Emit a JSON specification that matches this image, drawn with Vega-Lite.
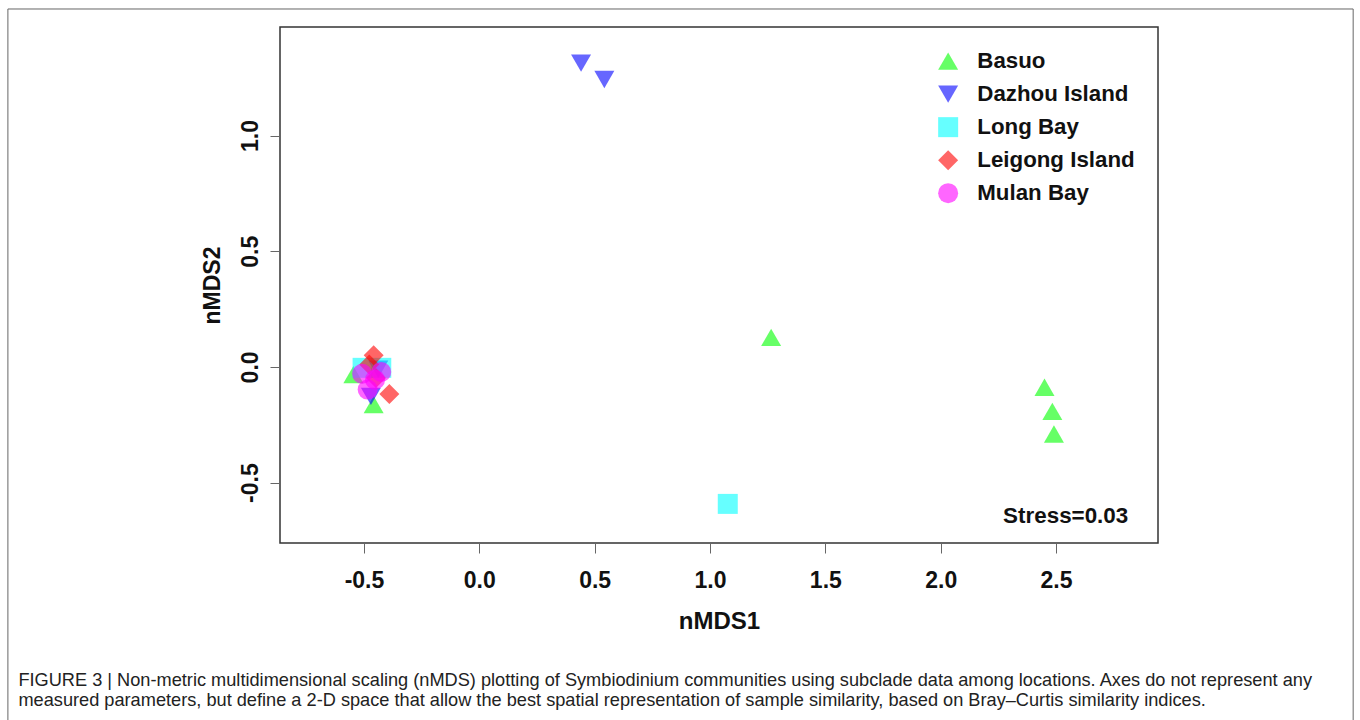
{
  "$schema": "https://vega.github.io/schema/vega-lite/v6.json",
  "width": 878,
  "height": 516,
  "padding": {"left": 7, "top": 8, "right": 0, "bottom": 0},
  "background": "white",
  "config": {
    "view": {"stroke": "#333333", "strokeWidth": 1.5},
    "font": "Liberation Sans"
  },
  "title": {
    "text": ["FIGURE 3 | Non-metric multidimensional scaling (nMDS) plotting of Symbiodinium communities using subclade data among locations. Axes do not represent any", "measured parameters, but define a 2-D space that allow the best spatial representation of sample similarity, based on Bray–Curtis similarity indices."],
    "orient": "bottom",
    "anchor": "start",
    "frame": "bounds",
    "offset": -60,
    "dx": 11,
    "font": "Liberation Sans",
    "fontSize": 18.2,
    "fontWeight": "normal",
    "color": "#222222",
    "lineHeight": 20
  },
  "layer": [
    {
      "data": {"values": [{}]},
      "mark": {"type": "rect", "fill": null, "stroke": "#666666", "strokeWidth": 1, "clip": false},
      "encoding": {
        "x": {"datum": -2.0435, "type": "quantitative"},
        "x2": {"datum": 3.788},
        "y": {"datum": 1.5468, "type": "quantitative"},
        "y2": {"datum": -1.574}
      }
    },
    {
      "data": {"values": [
        {"site": "Basuo", "nmds1": -0.546, "nmds2": -0.033},
        {"site": "Basuo", "nmds1": -0.458, "nmds2": -0.163},
        {"site": "Basuo", "nmds1": 1.265, "nmds2": 0.128},
        {"site": "Basuo", "nmds1": 2.450, "nmds2": -0.088},
        {"site": "Basuo", "nmds1": 2.484, "nmds2": -0.192},
        {"site": "Basuo", "nmds1": 2.491, "nmds2": -0.290},
        {"site": "Dazhou Island", "nmds1": 0.441, "nmds2": 1.313},
        {"site": "Dazhou Island", "nmds1": 0.542, "nmds2": 1.242},
        {"site": "Dazhou Island", "nmds1": -0.470, "nmds2": -0.127},
        {"site": "Dazhou Island", "nmds1": -0.438, "nmds2": -0.010},
        {"site": "Long Bay", "nmds1": 1.077, "nmds2": -0.592},
        {"site": "Long Bay", "nmds1": -0.506, "nmds2": -0.004},
        {"site": "Long Bay", "nmds1": -0.425, "nmds2": -0.004},
        {"site": "Leigong Island", "nmds1": -0.458, "nmds2": 0.050},
        {"site": "Leigong Island", "nmds1": -0.477, "nmds2": 0.010},
        {"site": "Leigong Island", "nmds1": -0.448, "nmds2": -0.048},
        {"site": "Leigong Island", "nmds1": -0.390, "nmds2": -0.117},
        {"site": "Mulan Bay", "nmds1": -0.508, "nmds2": -0.030},
        {"site": "Mulan Bay", "nmds1": -0.484, "nmds2": -0.098},
        {"site": "Mulan Bay", "nmds1": -0.452, "nmds2": -0.055},
        {"site": "Mulan Bay", "nmds1": -0.425, "nmds2": -0.022}
      ]},
      "mark": {"type": "point", "filled": true, "strokeWidth": 0},
      "encoding": {
        "x": {
          "field": "nmds1", "type": "quantitative",
          "scale": {"domain": [-0.864, 2.942], "nice": false, "zero": false},
          "axis": {
            "values": [-0.5, 0, 0.5, 1, 1.5, 2, 2.5],
            "labelExpr": "replace(format(datum.value, '.1f'), '\u2212', '-')",
            "grid": false, "domain": false,
            "tickSize": 10, "tickColor": "#666666", "tickWidth": 1,
            "labelFont": "Liberation Sans", "labelFontSize": 23, "labelFontWeight": "bold", "labelColor": "#111111",
            "labelPadding": 16,
            "title": "nMDS1", "titleFont": "Liberation Sans", "titleFontSize": 24, "titleFontWeight": "bold", "titleColor": "#111111",
            "titlePadding": 17
          }
        },
        "y": {
          "field": "nmds2", "type": "quantitative",
          "scale": {"domain": [-0.761, 1.469], "nice": false, "zero": false},
          "axis": {
            "values": [-0.5, 0, 0.5, 1],
            "labelExpr": "replace(format(datum.value, '.1f'), '\u2212', '-')",
            "grid": false, "domain": false,
            "tickSize": 10, "tickColor": "#666666", "tickWidth": 1,
            "labelAngle": -90, "labelAlign": "center", "labelBaseline": "bottom",
            "labelFont": "Liberation Sans", "labelFontSize": 23, "labelFontWeight": "bold", "labelColor": "#111111",
            "labelPadding": 8,
            "title": "nMDS2", "titleFont": "Liberation Sans", "titleFontSize": 23, "titleFontWeight": "bold", "titleColor": "#111111",
            "titlePadding": 15
          }
        },
        "color": {
          "field": "site", "type": "nominal",
          "scale": {"domain": ["Basuo", "Dazhou Island", "Long Bay", "Leigong Island", "Mulan Bay"], "range": ["#00FF00", "#0000FF", "#00FFFF", "#FF0000", "#FF00FF"]},
          "legend": {
            "title": null, "orient": "top-right", "offset": 14, "padding": 9,
            "labelFont": "Liberation Sans", "labelFontSize": 22.3, "labelFontWeight": "bold", "labelColor": "#111111",
            "labelOffset": 18, "rowPadding": 10, "symbolStrokeWidth": 0
          }
        },
        "shape": {
          "field": "site", "type": "nominal",
          "scale": {"domain": ["Basuo", "Dazhou Island", "Long Bay", "Leigong Island", "Mulan Bay"], "range": ["triangle-up", "triangle-down", "square", "diamond", "circle"]}
        },
        "opacity": {
          "field": "site", "type": "nominal",
          "scale": {"domain": ["Basuo", "Dazhou Island", "Long Bay", "Leigong Island", "Mulan Bay"], "range": [0.6, 0.6, 0.6, 0.6, 0.8]}
        },
        "size": {
          "field": "site", "type": "nominal",
          "scale": {"domain": ["Basuo", "Dazhou Island", "Long Bay", "Leigong Island", "Mulan Bay"], "range": [400, 400, 270, 400, 324]}
        }
      }
    },
    {
      "data": {"values": [{"label": "Stress=0.03"}]},
      "mark": {"type": "text", "align": "right", "baseline": "middle", "font": "Liberation Sans", "fontSize": 22.4, "fontWeight": "bold", "color": "#111111"},
      "encoding": {
        "text": {"field": "label"},
        "x": {"datum": 2.813, "type": "quantitative"},
        "y": {"datum": -0.645, "type": "quantitative"}
      }
    }
  ]
}
